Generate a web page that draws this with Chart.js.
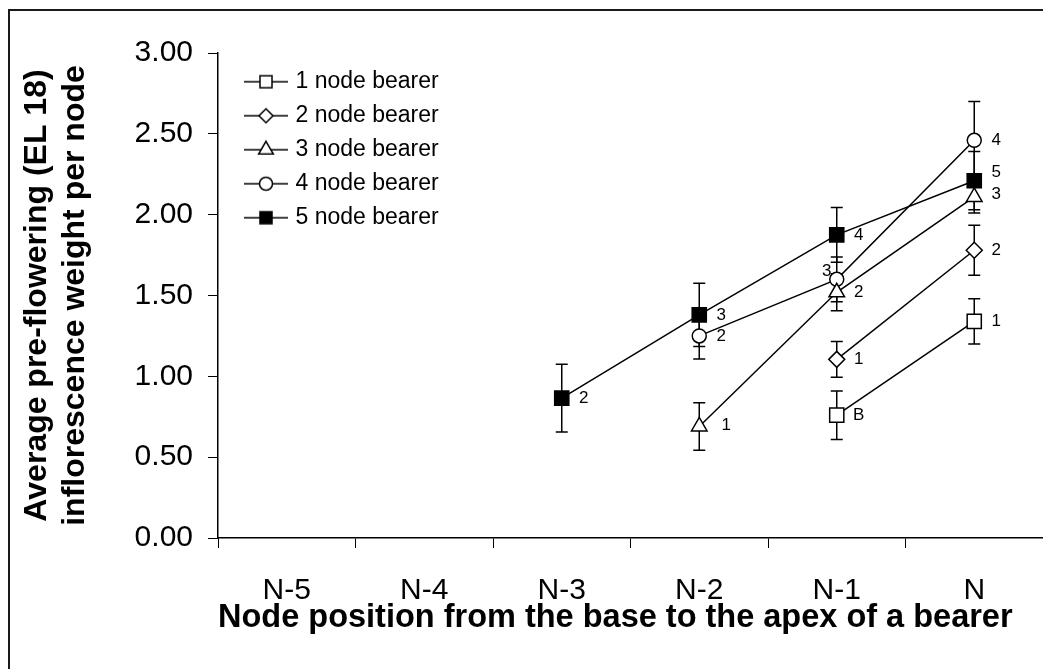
<!DOCTYPE html>
<html><head><meta charset="utf-8">
<script src="https://cdn.jsdelivr.net/npm/chart.js@4.4.0/dist/chart.umd.min.js"></script>
<style>html,body{margin:0;padding:0;background:#fff}#wrap{width:1043px;height:669px;position:relative}</style>
</head><body><div id="wrap"><canvas id="c" width="1043" height="669"></canvas></div>
<script>
// ---- data ----
const categories = ['N-5','N-4','N-3','N-2','N-1','N'];
const seriesNames = ['1 node bearer','2 node bearer','3 node bearer','4 node bearer','5 node bearer'];
const bearer1 = [null,null,null,null,0.76,1.34];
const bearer2 = [null,null,null,null,1.105,1.78];
const bearer3 = [null,null,null,0.69,1.52,2.11];
const bearer4 = [null,null,null,1.25,1.60,2.46];
const bearer5 = [null,null,0.865,1.38,1.875,2.21];
const err1 = [null,null,null,null,0.15,0.14];
const err2 = [null,null,null,null,0.11,0.155];
const err3 = [null,null,null,0.147,0.115,0.10];
const err4 = [null,null,null,0.143,0.138,0.24];
const err5 = [null,null,0.21,0.196,0.17,0.18];
const note1 = ['','','','','B','1'];
const note2 = ['','','','','1','2'];
const note3 = ['','','','1','2','3'];
const note4 = ['','','','2','3','4'];
const note5 = ['','','2','3','4','5'];
const yTicks = [0,0.5,1,1.5,2,2.5,3];
const xTitle = 'Node position from the base to the apex of a bearer';
const yTitle = ['Average pre-flowering (EL 18)','inflorescence weight per node'];

// ---- styles ----
const FONT = '"Liberation Sans", Arial, sans-serif';
const values = [bearer1,bearer2,bearer3,bearer4,bearer5];
const errors = [err1,err2,err3,err4,err5];
const notes = [note1,note2,note3,note4,note5];
const pStyles = ['rect','rectRot','triangle','circle','rect'];
const pRadius = [10,8,9,7,10];
const lRadius = [8.5,7,8.5,6.5,8.5];
const pFill = ['#fff','#fff','#fff','#fff','#000'];
// label offsets [dx,dy] by "series-index"; default [22,0]
const noteShift = {'2-3':[27,-1],'2-5':[22,-3],'3-4':[-10,-8],'4-5':[22,-8]};

// legend icons: line through marker
const LEG_W = 63, LEG_H = 24;
const legendIcons = pStyles.map((st,i)=>{
  const cv = document.createElement('canvas');
  cv.width = LEG_W; cv.height = LEG_H;
  const g = cv.getContext('2d');
  g.strokeStyle = '#000'; g.lineWidth = 1.5;
  g.beginPath(); g.moveTo(19, LEG_H/2); g.lineTo(63, LEG_H/2); g.stroke();
  g.fillStyle = pFill[i]; g.strokeStyle = '#000'; g.lineWidth = 1.5;
  Chart.helpers.drawPoint(g, {pointStyle: st, radius: lRadius[i], rotation: 0, borderWidth: 1.5}, 41, LEG_H/2);
  return cv;
});

const framePlugin = {
  id: 'frame',
  beforeDraw(chart) {
    const c = chart.ctx;
    c.save();
    c.fillStyle = '#fff'; c.fillRect(0,0,chart.width,chart.height);
    c.fillStyle = '#1a1a1a';
    c.fillRect(8, 9, 2, chart.height - 9);
    c.fillRect(8, 9, chart.width - 8, 2);
    c.restore();
  }
};

const errorBarPlugin = {
  id: 'errorBars',
  beforeDatasetsDraw(chart) {
    const c = chart.ctx, y = chart.scales.y;
    c.save();
    c.strokeStyle = '#000'; c.lineWidth = 1.5;
    chart.data.datasets.forEach((ds, di) => {
      const meta = chart.getDatasetMeta(di);
      ds.data.forEach((v, i) => {
        const e = errors[di][i];
        if (v == null || e == null) return;
        const px = meta.data[i].x;
        const yt = y.getPixelForValue(v + e), yb = y.getPixelForValue(v - e);
        c.beginPath();
        c.moveTo(px, yt); c.lineTo(px, yb);
        c.moveTo(px - 6, yt); c.lineTo(px + 6, yt);
        c.moveTo(px - 6, yb); c.lineTo(px + 6, yb);
        c.stroke();
      });
    });
    c.restore();
  }
};

const notePlugin = {
  id: 'notes',
  afterDatasetsDraw(chart) {
    const c = chart.ctx;
    c.save();
    c.fillStyle = '#000';
    c.font = '17px ' + FONT;
    c.textAlign = 'center'; c.textBaseline = 'middle';
    chart.data.datasets.forEach((ds, di) => {
      const meta = chart.getDatasetMeta(di);
      notes[di].forEach((t, i) => {
        if (!t || ds.data[i] == null) return;
        const sh = noteShift[di + '-' + i] || [22, 0];
        c.fillText(t, meta.data[i].x + sh[0], meta.data[i].y + sh[1]);
      });
    });
    c.restore();
  }
};

new Chart(document.getElementById('c'), {
  type: 'line',
  data: {
    labels: categories,
    datasets: values.map((vals, i) => ({
      label: seriesNames[i],
      data: vals,
      borderColor: '#000',
      borderWidth: 1.5,
      backgroundColor: pFill[i],
      pointStyle: pStyles[i],
      pointRadius: pRadius[i],
      pointHoverRadius: pRadius[i],
      pointBackgroundColor: pFill[i],
      pointBorderColor: '#000',
      pointBorderWidth: 1.5,
      fill: false,
      tension: 0,
      spanGaps: false
    }))
  },
  options: {
    responsive: false,
    animation: false,
    events: [],
    layout: { autoPadding: false, padding: { top: 53, left: 0, right: 0, bottom: 0 } },
    plugins: {
      tooltip: { enabled: false },
      legend: {
        position: 'chartArea',
        align: 'start',
        title: { display: true, text: ' ', font: { size: 4 }, padding: { top: 54.4, bottom: 0 } },
        labels: {
          usePointStyle: true,
          pointStyleWidth: 55,
          padding: 11,
          color: '#000',
          font: { size: 23, family: FONT },
          generateLabels: (chart) => chart.data.datasets.map((ds, i) => ({
            text: ds.label, pointStyle: legendIcons[i], datasetIndex: i,
            hidden: false, lineWidth: 0, fillStyle: '#fff', strokeStyle: '#000', fontColor: '#000'
          }))
        }
      }
    },
    scales: {
      x: {
        type: 'category',
        offset: true,
        grid: { offset: true, drawOnChartArea: false, tickLength: 10, color: '#000', tickWidth: 1 },
        border: { color: '#000', width: 1.5 },
        ticks: { color: '#000', padding: 25, font: { size: 30, family: FONT }, maxRotation: 0, autoSkip: false },
        title: { display: true, align: 'start', text: xTitle, color: '#000', font: { size: 32.5, weight: 'bold', family: FONT }, padding: { top: 0, bottom: 31 } },
        afterFit: (s) => { s.height = 131; s.paddingRight = 0; s.paddingLeft = 0; }
      },
      y: {
        min: 0, max: 3,
        afterBuildTicks: (s) => { s.ticks = yTicks.map(v => ({ value: v })); },
        grid: { drawOnChartArea: false, tickLength: 10, color: '#000', tickWidth: 1 },
        border: { color: '#000', width: 1.5 },
        ticks: { color: '#000', padding: 15, font: { size: 30, family: FONT }, callback: (v) => Number(v).toFixed(2) },
        title: { display: true, text: yTitle, color: '#000', font: { size: 32, weight: 'bold', family: FONT, lineHeight: 1.17 }, padding: { top: 18.8, bottom: 0 } },
        afterFit: (s) => { s.width = 218; }
      }
    }
  },
  plugins: [framePlugin, errorBarPlugin, notePlugin]
});
</script>
</body></html>
